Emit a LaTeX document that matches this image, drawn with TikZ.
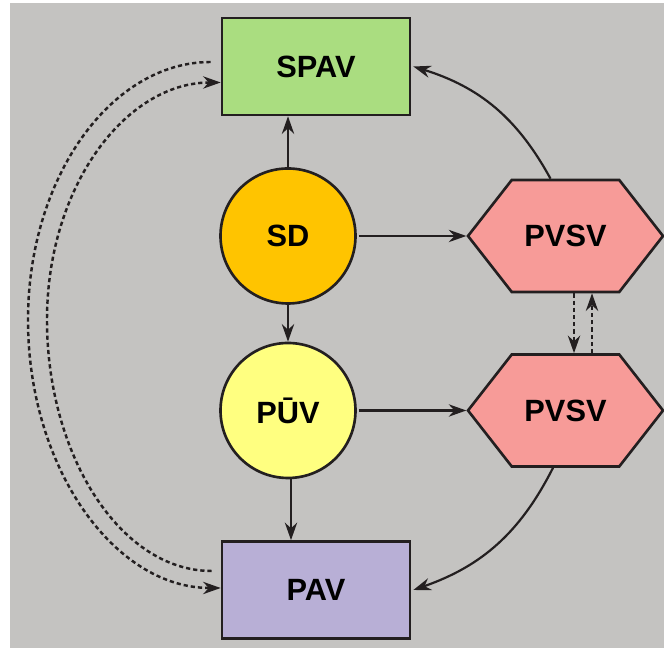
\documentclass[tikz,border=0pt]{standalone}
\usepackage{fontspec}
\setmainfont{Liberation Sans}
\usetikzlibrary{shapes.symbols, arrows.meta, positioning}

\definecolor{bggray}{RGB}{196,195,193}
\definecolor{spavgreen}{RGB}{170,221,128}
\definecolor{sdorange}{RGB}{255,196,0}
\definecolor{puvyellow}{RGB}{255,255,128}
\definecolor{pvsvpink}{RGB}{247,155,152}
\definecolor{pavpurple}{RGB}{184,175,214}
\definecolor{ink}{RGB}{35,31,32}

\begin{document}
\begin{tikzpicture}[
  box/.style={rectangle, draw=ink, line width=1.5pt, minimum width=3.76cm,
              minimum height=1.94cm, font=\fontsize{17.5}{20}\selectfont\bfseries},
  ball/.style={circle, draw=ink, line width=1.5pt, minimum size=2.7cm,
               inner sep=0pt, font=\fontsize{17.5}{20}\selectfont\bfseries},
  hexa/.style={signal, signal to=east and west, signal pointer angle=104,
               draw=ink, fill=pvsvpink, line width=1.5pt, minimum width=3.9cm,
               minimum height=2.24cm, inner sep=0pt,
               font=\fontsize{17.5}{20}\selectfont\bfseries},
  arr/.style={-{Stealth[length=10pt, width=7pt]}, line width=1.25pt, draw=ink},
  dasharr/.style={arr, line width=1.4pt, dash pattern=on 2.4pt off 1.7pt},
]
  \useasboundingbox (0,0) rectangle (13.28,13);
  \fill[bggray] (0.2,0.04) rectangle (13.28,12.94);

  \node[box, fill=spavgreen] (spav) at (6.32,11.67) {SPAV};
  \node[ball, fill=sdorange] (sd) at (5.76,8.28) {SD};
  \node[ball, fill=puvyellow] (puv) at (5.76,4.79) {PŪV};
  \node[box, fill=pavpurple] (pav) at (6.32,1.20) {PAV};
  \node[hexa] (pvsva) at (11.31,8.28) {PVSV};
  \node[hexa] (pvsvb) at (11.31,4.79) {PVSV};

  % turning points of the left loops
  \coordinate (outerw) at (0.56,6.6);
  \coordinate (innerw) at (0.94,6.6);

  % vertical chain
  \draw[arr] (sd.north) -- (sd.north |- spav.south);
  \draw[arr] (sd.south) -- (puv.north);
  \draw[arr] ([xshift=0.06cm]puv.south) -- ([xshift=0.06cm]puv.south |- pav.north);

  % to the hexagons
  \draw[arr] ([xshift=0.04cm]sd.east) -- (pvsva.west);
  \draw[arr] ([xshift=0.04cm]puv.east) -- (pvsvb.west);

  % back from the hexagons
  \draw[arr] ([xshift=-0.3cm]pvsva.north) to[bend right=22] ([xshift=0.04cm]spav.east);
  \draw[arr] ([xshift=-0.25cm]pvsvb.south) to[bend left=22] ([xshift=0.04cm]pav.east);

  % between the hexagons
  \draw[dasharr] ([xshift=0.17cm]pvsva.south) -- ([xshift=0.17cm]pvsvb.north);
  \draw[dasharr] ([xshift=0.53cm]pvsvb.north) -- ([xshift=0.53cm]pvsva.south);

  % left loops
  \draw[dasharr] ([xshift=-0.2cm, yshift=0.09cm]spav.west)
    .. controls +(-2.0,0) and +(0,2.84) .. (outerw)
    .. controls +(0,-2.95) and +(-2.13,0) .. ([yshift=0.04cm]pav.west);
  \draw[dasharr] ([xshift=-0.18cm, yshift=0.38cm]pav.west)
    .. controls +(-1.83,0) and +(0,-2.7) .. (innerw)
    .. controls +(0,2.67) and +(-1.9,0) .. ([yshift=-0.32cm]spav.west);
\end{tikzpicture}
\end{document}
